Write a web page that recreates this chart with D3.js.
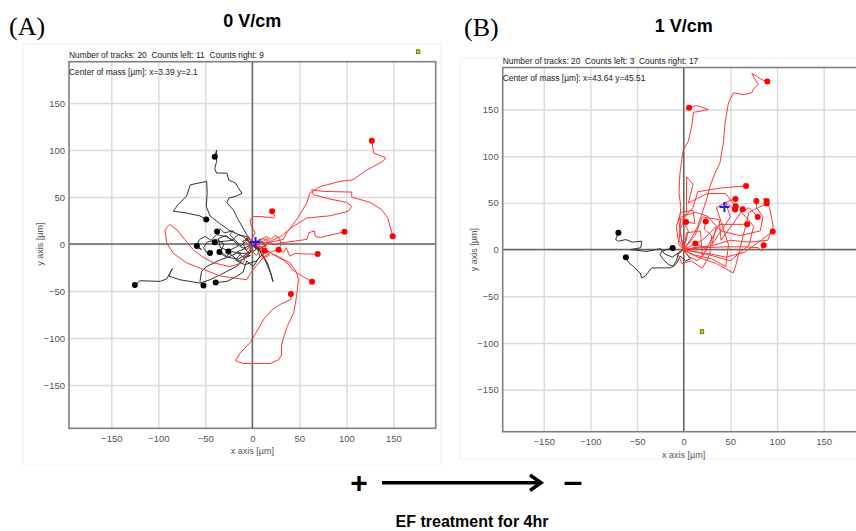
<!DOCTYPE html>
<html>
<head>
<meta charset="utf-8">
<script src="https://cdn.jsdelivr.net/npm/d3@7"></script>
<style>
body { margin: 0; background: #fff; }
svg { display: block; font-family: "Liberation Sans", Arial, sans-serif; }
text.hdr { white-space: pre; }
</style>
</head>
<body>
<svg id="chart" width="856" height="531"></svg>
<script>
// axis ticks, titles
var ticks = [-150, -100, -50, 0, 50, 100, 150];
var titles = ["0 V/cm", "1 V/cm"];
var letters = ["(A)", "(B)"];
var headers = ["Number of tracks: 20  Counts left: 11  Counts right: 9",
               "Number of tracks: 20  Counts left: 3  Counts right: 17"];
var centers = [[3.39, 2.1], [43.64, 45.51]];

// panel A (0 V/cm) tracks, in µm, each starts at the origin and ends at the dot
var blackA = [
  [[0,0],[-6,10],[-15,26],[-20,36],[-27,44],[-25,49],[-17,51],[-11,54],[-15,60],[-18,65],[-25,68],[-27,75.5],[-38,75.5],[-40,80],[-38,88],[-38,100],[-40,93]],
  [[0,0],[-10,8],[-25,15],[-35,22],[-45,30],[-49,40],[-48,55],[-48.6,66.7],[-66,63],[-70,51],[-79,42],[-84,35],[-70,33],[-56,30],[-49,26]],
  [[0,0],[-2.5,-9.6],[-10,-16],[-16.7,-23.8],[-34,-32.6],[-45,-38],[-55.7,-41.5],[-77,-38],[-89,-34],[-85,-26],[-91,-37],[-98,-39.7],[-119.5,-39],[-125,-43.6]],
  [[0,0],[-8,-4],[-4,-10],[-16.7,-9.6],[-26,-14],[-34,-16.7],[-48.6,-23.8],[-54,-29],[-55.7,-39.7],[-52,-44]],
  [[0,0],[5,-4],[8,-13],[1,-24],[-6,-18],[-10,-30],[-16.7,-34.4],[-27,-39.7],[-39,-41]],
  [[0,0],[6,-4],[10,-10],[16,-20],[20,-32],[22,-40],[19,-30],[14,-18],[8,-8],[2,-2],[-6,4],[-12,-2],[-18,4],[-24,10],[-20,14],[-30,12],[-34,16],[-37.5,13.4]],
  [[0,0],[8,5],[14,-2],[6,-6],[-4,2],[-6,8],[-15,10],[-22,4],[-28,9],[-36,6],[-34,-4],[-25,-7],[-15,-2],[-20,4],[-30,3],[-40,2]],
  [[0,0],[-6,-6],[-14,-2],[-20,4],[-28,8],[-38,10],[-44,4],[-50,8],[-56,5],[-60,-2],[-54,-6],[-62,0],[-59,-2]],
  [[0,0],[4,-6],[-5,-10],[-15,-16],[-26,-14],[-34,-8],[-30,0],[-38,5],[-48,2],[-52,-4],[-46,-12],[-45,-9.6]],
  [[0,0],[6,-3],[12,-10],[4,-18],[-8,-22],[-18,-17],[-12,-10],[-22,-8],[-28,-14],[-35,-8.5]],
  [[0,0],[-3,6],[-10,3],[-8,-5],[-16,-8],[-10,-14],[-2,-12],[-14,-18],[-22,-12],[-25.5,-8]]
];
var redA = [
  [[0,0],[8,1],[20,2],[33,5],[36.5,11.7],[47,26],[58,43.6],[61,54],[72,61],[93,66.7],[107,68.4],[122,79],[139,88],[142,91.5],[129,97],[127,110]],
  [[0,0],[10,-3],[22.3,4.6],[30,8],[43.6,18.8],[57.8,27.7],[82.6,30.1],[102,34.8],[105.7,40],[100.4,44.3],[82.6,47.9],[64.9,52.5],[63.1,57.8],[75.5,56],[105.7,55.3],[105.7,50],[125.2,44.3],[137.6,36.5],[144,27.7],[149.3,8.2]],
  [[0,0],[10,2],[16,6],[22,-1],[29,1],[44,3],[58,5],[60,12],[66,14],[67,8],[72,7],[98,13]],
  [[0,0],[-1,5],[3,12],[-1,19],[-2.5,26],[1,29.4],[6,29.4],[15,28.7],[22,27.7],[24,29.4],[21,35]],
  [[0,0],[8,4],[15,8],[20,5],[24,9],[28,7],[31,0],[27,-6],[33,-9],[36,-4],[40,-13],[45,-10],[55,-10.5],[69.5,-10.6]],
  [[0,0],[8,-4],[15,-6],[22,-11],[33,-17],[39,-22],[42,-27],[51,-33],[63.5,-40]],
  [[0,0],[10,-5],[25,-12],[40,-20],[47,-30],[49,-38],[47,-56],[44,-73],[37,-88],[33,-100],[31,-108],[31,-118],[28,-123],[19,-127],[-10,-127],[-18,-124],[-13,-116],[-2.5,-105],[3,-96],[12,-80],[21,-70],[29,-64.5],[41,-59],[41,-53]],
  [[0,0],[-5,-10],[-10,-20],[-24,-24],[-41,-20],[-54,-13],[-63,-6],[-72,5],[-80,15],[-88,21],[-93,15],[-91,1],[-84,-10],[-70,-20],[-52,-27],[-34,-34],[-6,-38],[-2,-31],[5,-22],[12,-14],[20,-8],[28,-6]],
  [[0,0],[-4,8],[-8,4],[-3,-4],[4,-12],[9,-6],[6,2],[10,6],[16,4],[14,-4],[18,-12],[10,-16],[13,-7]]
];

// panel B (1 V/cm) tracks
var blackB = [
  [[0,0],[-5,-3],[-12,-8],[-20,-5],[-25,1],[-30,0],[-40,-2],[-57,0],[-46,2],[-45,9],[-55,8],[-62,10.7],[-70,9],[-73,11],[-70,18]],
  [[0,0],[-5.7,-3.6],[-7.5,-10.7],[-11,-17.9],[-14.6,-19.6],[-28.9,-19.6],[-34.3,-19.6],[-41.4,-28.6],[-45,-30.4],[-46.8,-25],[-54,-17.9],[-59,-14],[-62,-8.2]],
  [[0,0],[7,-10],[2,-12],[-3.9,-7],[-7.5,-14.3],[-11,-17.9],[-16.4,-16],[-21.8,-10.7],[-25.4,-5.4],[-23.6,-1.8],[-18.2,0],[-11.8,1.8]]
];
var redB = [
  [[0,0],[8,12],[15,25],[20,40],[25,55],[28.2,67.9],[33.6,82],[38.9,92.9],[42.5,114.3],[44.3,135.7],[47.9,157],[53.2,167.9],[63.9,166],[72.9,167.9],[74.6,172],[80,176.8],[75.4,184],[72.9,188.6],[78.2,185.7],[83.6,182],[89.6,180]],
  [[0,0],[-3,15],[-5,30],[-3,45],[-5,60],[-4.6,71.4],[-4,82],[-2,96.4],[-0.4,107],[5,116],[8.6,132],[10.4,147],[17.5,148.2],[26.4,150],[13.9,154.3],[5.7,151.8]],
  [[0,0],[5,20],[-2,32],[10,45],[15,62],[40,66],[66.8,68.2]],
  [[0,0],[8,-5],[30,-10],[45,-18],[48,5],[40,30],[35,45],[48,52],[55.4,54.3]],
  [[0,0],[-5,10],[-3,35],[12,40],[25,36],[40,20],[60,15],[82,20],[85,35],[78,45],[77.9,52.1]],
  [[0,0],[10,2],[30,4],[50,10],[70,8],[90,10],[96,25],[92,45],[85,55],[88.9,52.1]],
  [[0,0],[15,-8],[35,-15],[53,-25],[55,-20],[60,0],[65,20],[70,40],[80,45],[88.9,49.3]],
  [[0,0],[-4,20],[3,40],[3,78],[10,70],[5,50],[25,60],[45,60],[55.7,46.4]],
  [[0,0],[20,10],[35,25],[30,5],[50,35],[45,50],[55,42.9]],
  [[0,0],[12,15],[20,35],[38,32],[40,10],[58,35],[63.2,43.2]],
  [[0,0],[25,-5],[50,-12],[70,5],[75,25],[62,40],[70,45],[79.3,35]],
  [[0,0],[3,18],[18,20],[20,-8],[38,27],[52,27],[67.9,27.1]],
  [[0,0],[-5,5],[-8,25],[-3,40],[10,42],[12,28],[2.5,29.6]],
  [[0,0],[-6,-5],[-2,-15],[8,-12],[20,-20],[28,-5],[30,15],[22,22],[23.6,30]],
  [[0,0],[10,-2],[30,-5],[45,-8],[65,-3],[80,8],[95.4,19.3]],
  [[0,0],[6,-8],[15,-12],[25,0],[12.5,6.4]],
  [[0,0],[20,2],[45,3],[65,3],[80,2],[83.6,-1.8],[85.7,4.6]]
];

// points outside the tracked set (small yellow squares)
var outA = [[176, 205]];
var outB = [[19.3, -87.5]];

var svg = d3.select("#chart");

function panel(o) {
  var g = svg.append("g");
  var x = d3.scaleLinear().domain(o.xd).range([o.left, o.right]);
  var y = d3.scaleLinear().domain(o.yd).range([o.bottom, o.top]);
  var h = o.bottom - o.top, w = o.right - o.left;

  // faint outer box of the panel
  g.append("rect").attr("x", o.box[0]).attr("y", o.box[1]).attr("width", o.box[2]).attr("height", o.box[3])
    .attr("fill", "none").attr("stroke", "#efefef");

  // grid
  g.append("g").attr("transform", "translate(0," + o.bottom + ")")
    .call(d3.axisBottom(x).tickValues(ticks).tickSize(-h).tickFormat(""))
    .call(function(s){ s.select(".domain").remove(); s.selectAll("line").attr("stroke", "#dadada").attr("stroke-width", 1.4); });
  g.append("g").attr("transform", "translate(" + o.left + ",0)")
    .call(d3.axisLeft(y).tickValues(ticks).tickSize(-w).tickFormat(""))
    .call(function(s){ s.select(".domain").remove(); s.selectAll("line").attr("stroke", "#dadada").attr("stroke-width", 1.4); });

  // zero lines
  g.append("line").attr("x1", x(0)).attr("x2", x(0)).attr("y1", o.top).attr("y2", o.bottom).attr("stroke", "#666").attr("stroke-width", 1.5);
  g.append("line").attr("x1", o.left).attr("x2", o.right).attr("y1", y(0)).attr("y2", y(0)).attr("stroke", "#666").attr("stroke-width", 1.5);

  // frame
  g.append("rect").attr("x", o.left).attr("y", o.top).attr("width", w).attr("height", h)
    .attr("fill", "none").attr("stroke", "#808080").attr("stroke-width", 1.6);

  // tick labels
  var xa = g.append("g").attr("transform", "translate(0," + o.bottom + ")")
    .call(d3.axisBottom(x).tickValues(ticks).tickSize(0).tickPadding(7));
  xa.select(".domain").remove();
  var ya = g.append("g").attr("transform", "translate(" + o.left + ",0)")
    .call(d3.axisLeft(y).tickValues(ticks).tickSize(0).tickPadding(4));
  ya.select(".domain").remove();
  g.selectAll(".tick text").attr("font-size", 9.5).attr("fill", "#555").attr("font-family", "Liberation Sans, Arial, sans-serif");

  g.append("text").attr("x", x(0)).attr("y", o.bottom + 26).attr("text-anchor", "middle")
    .attr("font-size", 9).attr("fill", "#555").text("x axis [µm]");
  g.append("text").attr("transform", "translate(" + (o.left - 26) + "," + y(0) + ") rotate(-90)")
    .attr("text-anchor", "middle").attr("font-size", 9).attr("fill", "#555").text("y axis  [µm]");

  // header texts
  g.append("text").attr("class", "hdr").attr("x", o.left).attr("y", o.top - 3.5).attr("font-size", 8.4).attr("fill", "#222").text(o.header);
  g.append("text").attr("x", o.left).attr("y", o.top + 13.5).attr("font-size", 8.4).attr("fill", "#222")
    .text("Center of mass [µm]: x=" + o.center[0] + " y=" + o.center[1]);

  // tracks
  var line = d3.line().x(function(d){ return x(d[0]); }).y(function(d){ return y(d[1]); });
  [[o.black, "#333", "#000"], [o.red, "#ff3535", "#ff0000"]].forEach(function(set) {
    g.append("g").selectAll("path").data(set[0]).enter().append("path")
      .attr("d", line).attr("fill", "none").attr("stroke", set[1]).attr("stroke-width", 1).attr("stroke-linejoin", "round");
  });
  [[o.black, "#000"], [o.red, "#ff0000"]].forEach(function(set) {
    g.append("g").selectAll("circle").data(set[0]).enter().append("circle")
      .attr("cx", function(d){ return x(d[d.length - 1][0]); })
      .attr("cy", function(d){ return y(d[d.length - 1][1]); })
      .attr("r", 3).attr("fill", set[1]);
  });

  // outliers
  g.selectAll("rect.out").data(o.out).enter().append("rect").attr("class", "out")
    .attr("x", function(d){ return x(d[0]) - 1.5; }).attr("y", function(d){ return y(d[1]) - 1.5; })
    .attr("width", 3.5).attr("height", 3.5).attr("fill", "#d6d600").attr("stroke", "#555500").attr("stroke-width", 0.8);

  // center of mass cross
  var cx = x(o.center[0]), cy = y(o.center[1]);
  g.append("path").attr("d", "M" + (cx - 5) + "," + cy + "H" + (cx + 5) + "M" + cx + "," + (cy - 5) + "V" + (cy + 5))
    .attr("stroke", "#1a1aff").attr("stroke-width", 2);

  // title and letter
  svg.append("text").attr("x", x(0)).attr("y", o.titleY).attr("text-anchor", "middle")
    .attr("font-size", 18).attr("font-weight", "bold").attr("fill", "#000").text(o.title);
  svg.append("text").attr("x", o.letterX).attr("y", o.letterY)
    .attr("font-family", "Liberation Serif, 'Times New Roman', serif").attr("font-size", 26).attr("fill", "#000").text(o.letter);
}

panel({ xd: [-195, 195], yd: [-196, 194], left: 69, right: 435.7, top: 61.7, bottom: 428.3,
  box: [23, 44, 418, 421], header: headers[0], center: centers[0], black: blackA, red: redA, out: outA,
  title: titles[0], titleY: 27, letter: letters[0], letterX: 9, letterY: 35 });
panel({ xd: [-194, 196], yd: [-195, 195], left: 502.7, right: 866.6, top: 67.5, bottom: 431.7,
  box: [460, 58, 420, 401], header: headers[1], center: centers[1], black: blackB, red: redB, out: outB,
  title: titles[1], titleY: 32, letter: letters[1], letterX: 464, letterY: 36 });

// field direction arrow
var foot = svg.append("g");
foot.append("text").attr("x", 359).attr("y", 493).attr("text-anchor", "middle")
  .attr("font-size", 30).attr("font-weight", "bold").text("+");
foot.append("line").attr("x1", 382).attr("x2", 540).attr("y1", 482.7).attr("y2", 482.7)
  .attr("stroke", "#000").attr("stroke-width", 3.5);
foot.append("path").attr("d", "M530,475 L541,482.7 L530,490.5").attr("fill", "none")
  .attr("stroke", "#000").attr("stroke-width", 3.5).attr("stroke-linejoin", "miter");
foot.append("text").attr("x", 573).attr("y", 492).attr("text-anchor", "middle")
  .attr("font-size", 34).attr("font-weight", "bold").text("–");
foot.append("text").attr("x", 472).attr("y", 527).attr("text-anchor", "middle")
  .attr("font-size", 16).attr("font-weight", "bold").text("EF treatment for 4hr");
</script>
</body>
</html>
